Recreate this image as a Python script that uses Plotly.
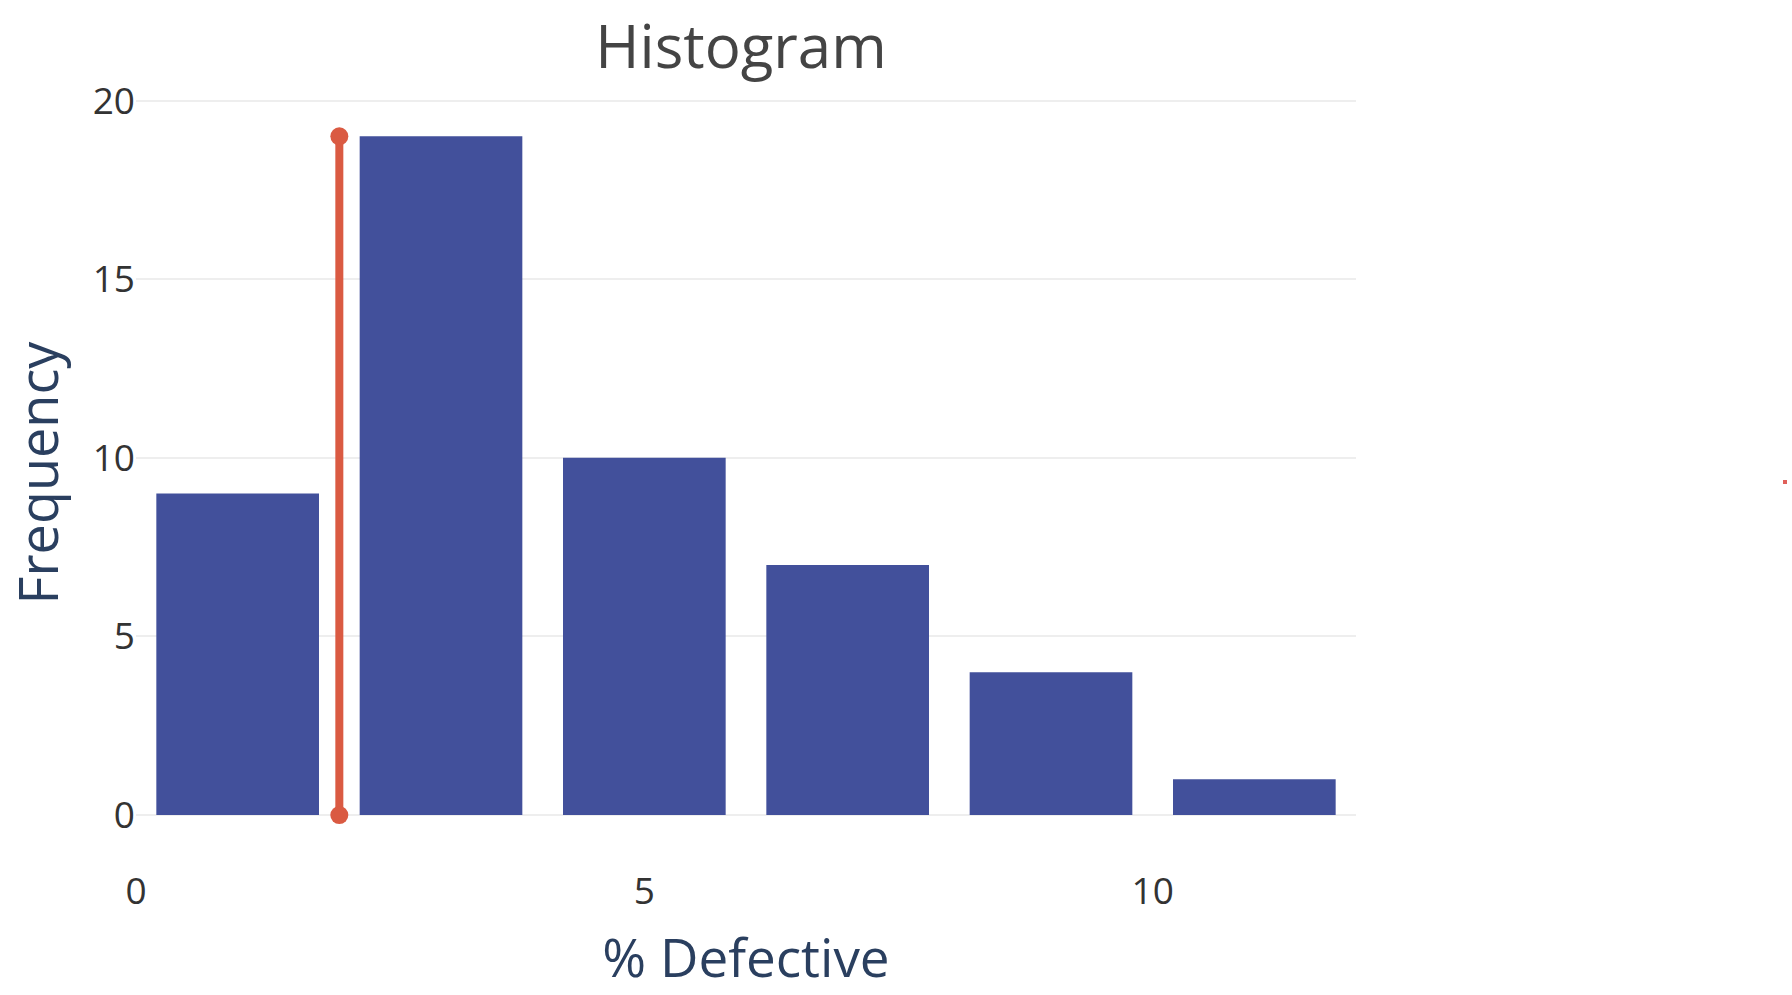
import plotly.graph_objects as go

# Data
bin_starts = [0, 2, 4, 6, 8, 10]
bin_width = 2
frequency = [9, 19, 10, 7, 4, 1]
lsl = 2  # vertical reference line position (% Defective)
x_tick_vals = [0, 5, 10]
y_tick_vals = [0, 5, 10, 15, 20]

bin_centers = [s + bin_width / 2 for s in bin_starts]

fig = go.Figure()
fig.add_trace(go.Bar(
    x=bin_centers,
    y=frequency,
    width=[bin_width * 0.8] * len(bin_centers),
    marker=dict(color="#42509B", line=dict(width=0)),
    showlegend=False,
    hoverinfo="x+y",
))
fig.add_trace(go.Scatter(
    x=[lsl, lsl],
    y=[0, max(frequency)],
    mode="lines+markers",
    line=dict(color="#DA5A42", width=8),
    marker=dict(color="#DA5A42", size=18),
    showlegend=False,
))

L, R, T, B = 136, 436, 97, 146
fig.update_layout(
    width=1792,
    height=995,
    paper_bgcolor="white",
    plot_bgcolor="white",
    font=dict(family="Open Sans, Noto Sans, sans-serif", color="#444"),
    title=dict(text="Histogram", x=741 / 1792, xanchor="center",
               y=1 - 47 / 995, yanchor="middle",
               font=dict(size=60, color="#444")),
    margin=dict(l=L, r=R, t=T, b=B, autoexpand=False),
    xaxis=dict(
        range=[0, 12],
        tickvals=x_tick_vals,
        showgrid=False,
        zeroline=False,
        showline=False,
        ticks="",
        automargin=False,
        ticklabelstandoff=17,
        tickfont=dict(size=37, color="#333"),
        title=dict(text="% Defective", font=dict(size=53, color="#2a3f5f"), standoff=25),
    ),
    yaxis=dict(
        range=[-0.95, 20.1],
        tickvals=y_tick_vals,
        showgrid=True,
        gridcolor="#eeeeee",
        gridwidth=2,
        zeroline=False,
        showline=False,
        ticks="",
        automargin=False,
        tickfont=dict(size=37, color="#333"),
        title=dict(text="Frequency", font=dict(size=54, color="#2a3f5f"), standoff=23),
    ),
    shapes=[dict(type="rect", xref="paper", yref="paper",
                 x0=(1783 - L) / (1792 - L - R), x1=(1787 - L) / (1792 - L - R),
                 y0=(995 - B - 484) / (995 - T - B), y1=(995 - B - 480) / (995 - T - B),
                 fillcolor="#E0605A", line=dict(width=0))],
)

fig.write_html("out.html", config={"displayModeBar": False},
               post_script="document.body.style.margin='0';")
